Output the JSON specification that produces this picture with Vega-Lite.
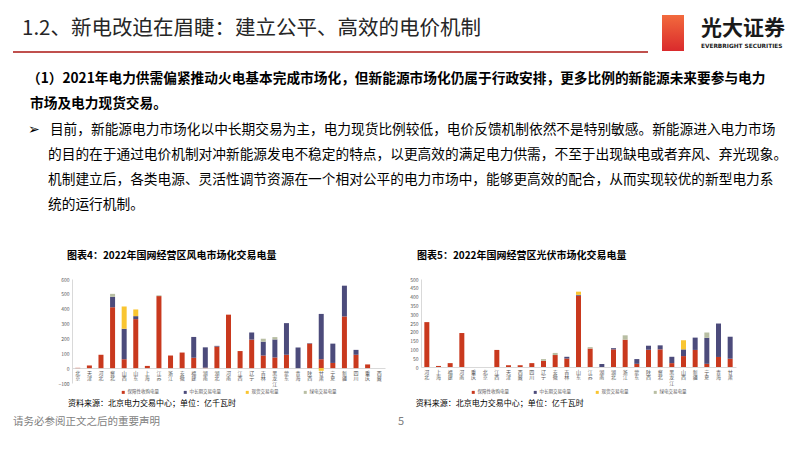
{
  "$schema": "https://vega.github.io/schema/vega-lite/v6.json",
  "background": "white",
  "padding": {"left": 13, "top": 15, "right": 0, "bottom": 0},
  "spacing": 0,
  "config": {
    "font": "Noto Sans CJK SC",
    "view": {"stroke": null},
    "axis": {"grid": false, "ticks": false, "domainColor": "#D9D9D9", "labelColor": "#595959", "labelFont": "Noto Sans CJK SC"},
    "legend": {"labelFont": "Noto Sans CJK SC"}
  },
  "datasets": {
    "none": [],
    "wind": [
      {"region": "北京", "series": "保障性收购电量", "s": 1, "value": 2},
      {"region": "天津", "series": "保障性收购电量", "s": 1, "value": 18},
      {"region": "河北", "series": "保障性收购电量", "s": 1, "value": 90},
      {"region": "冀北", "series": "保障性收购电量", "s": 1, "value": 410},
      {"region": "冀北", "series": "中长期交易电量", "s": 2, "value": 70},
      {"region": "冀北", "series": "绿电交易电量", "s": 4, "value": 20},
      {"region": "山西", "series": "保障性收购电量", "s": 1, "value": 60},
      {"region": "山西", "series": "中长期交易电量", "s": 2, "value": 205},
      {"region": "山西", "series": "现货交易电量", "s": 3, "value": 150},
      {"region": "山东", "series": "保障性收购电量", "s": 1, "value": 330},
      {"region": "山东", "series": "中长期交易电量", "s": 2, "value": 20},
      {"region": "山东", "series": "现货交易电量", "s": 3, "value": 45},
      {"region": "上海", "series": "保障性收购电量", "s": 1, "value": 15},
      {"region": "江苏", "series": "保障性收购电量", "s": 1, "value": 485},
      {"region": "江苏", "series": "绿电交易电量", "s": 4, "value": 5},
      {"region": "浙江", "series": "保障性收购电量", "s": 1, "value": 85},
      {"region": "安徽", "series": "保障性收购电量", "s": 1, "value": 105},
      {"region": "福建", "series": "保障性收购电量", "s": 1, "value": 70},
      {"region": "福建", "series": "中长期交易电量", "s": 2, "value": 140},
      {"region": "湖南", "series": "保障性收购电量", "s": 1, "value": 3},
      {"region": "湖南", "series": "中长期交易电量", "s": 2, "value": 137},
      {"region": "湖北", "series": "保障性收购电量", "s": 1, "value": 145},
      {"region": "湖北", "series": "中长期交易电量", "s": 2, "value": 5},
      {"region": "河南", "series": "保障性收购电量", "s": 1, "value": 360},
      {"region": "江西", "series": "保障性收购电量", "s": 1, "value": 115},
      {"region": "辽宁", "series": "保障性收购电量", "s": 1, "value": 192},
      {"region": "辽宁", "series": "中长期交易电量", "s": 2, "value": 48},
      {"region": "吉林", "series": "保障性收购电量", "s": 1, "value": 85},
      {"region": "吉林", "series": "中长期交易电量", "s": 2, "value": 93},
      {"region": "吉林", "series": "绿电交易电量", "s": 4, "value": 20},
      {"region": "黑龙江", "series": "保障性收购电量", "s": 1, "value": 72},
      {"region": "黑龙江", "series": "中长期交易电量", "s": 2, "value": 121},
      {"region": "黑龙江", "series": "绿电交易电量", "s": 4, "value": 16},
      {"region": "蒙东", "series": "保障性收购电量", "s": 1, "value": 90},
      {"region": "蒙东", "series": "中长期交易电量", "s": 2, "value": 213},
      {"region": "青海", "series": "中长期交易电量", "s": 2, "value": 139},
      {"region": "陕西", "series": "保障性收购电量", "s": 1, "value": 165},
      {"region": "陕西", "series": "中长期交易电量", "s": 2, "value": 3},
      {"region": "甘肃", "series": "保障性收购电量", "s": 1, "value": 60},
      {"region": "甘肃", "series": "中长期交易电量", "s": 2, "value": 305},
      {"region": "甘肃", "series": "现货交易电量", "s": 3, "value": -18},
      {"region": "宁夏", "series": "保障性收购电量", "s": 1, "value": 35},
      {"region": "宁夏", "series": "中长期交易电量", "s": 2, "value": 130},
      {"region": "新疆", "series": "保障性收购电量", "s": 1, "value": 348},
      {"region": "新疆", "series": "中长期交易电量", "s": 2, "value": 207},
      {"region": "四川", "series": "保障性收购电量", "s": 1, "value": 90},
      {"region": "四川", "series": "中长期交易电量", "s": 2, "value": 33},
      {"region": "重庆", "series": "保障性收购电量", "s": 1, "value": 25},
      {"region": "西藏", "series": "保障性收购电量", "s": 1, "value": 0}
    ],
    "solar": [
      {"region": "河北", "series": "保障性收购电量", "s": 1, "value": 255},
      {"region": "上海", "series": "保障性收购电量", "s": 1, "value": 6},
      {"region": "福建", "series": "保障性收购电量", "s": 1, "value": 22},
      {"region": "河南", "series": "保障性收购电量", "s": 1, "value": 193},
      {"region": "重庆", "series": "保障性收购电量", "s": 1, "value": 0},
      {"region": "北京", "series": "保障性收购电量", "s": 1, "value": 0},
      {"region": "江西", "series": "保障性收购电量", "s": 1, "value": 97},
      {"region": "天津", "series": "保障性收购电量", "s": 1, "value": 10},
      {"region": "西藏", "series": "保障性收购电量", "s": 1, "value": 10},
      {"region": "四川", "series": "保障性收购电量", "s": 1, "value": 22},
      {"region": "辽宁", "series": "保障性收购电量", "s": 1, "value": 35},
      {"region": "辽宁", "series": "绿电交易电量", "s": 4, "value": 10},
      {"region": "安徽", "series": "保障性收购电量", "s": 1, "value": 68},
      {"region": "安徽", "series": "绿电交易电量", "s": 4, "value": 12},
      {"region": "吉林", "series": "保障性收购电量", "s": 1, "value": 48},
      {"region": "吉林", "series": "中长期交易电量", "s": 2, "value": 10},
      {"region": "山东", "series": "保障性收购电量", "s": 1, "value": 405},
      {"region": "山东", "series": "中长期交易电量", "s": 2, "value": 5},
      {"region": "山东", "series": "现货交易电量", "s": 3, "value": 18},
      {"region": "江苏", "series": "保障性收购电量", "s": 1, "value": 105},
      {"region": "江苏", "series": "绿电交易电量", "s": 4, "value": 8},
      {"region": "湖南", "series": "中长期交易电量", "s": 2, "value": 17},
      {"region": "湖北", "series": "保障性收购电量", "s": 1, "value": 100},
      {"region": "湖北", "series": "中长期交易电量", "s": 2, "value": 7},
      {"region": "浙江", "series": "保障性收购电量", "s": 1, "value": 155},
      {"region": "浙江", "series": "绿电交易电量", "s": 4, "value": 25},
      {"region": "蒙东", "series": "保障性收购电量", "s": 1, "value": 18},
      {"region": "蒙东", "series": "中长期交易电量", "s": 2, "value": 27},
      {"region": "陕西", "series": "保障性收购电量", "s": 1, "value": 98},
      {"region": "陕西", "series": "中长期交易电量", "s": 2, "value": 23},
      {"region": "冀北", "series": "保障性收购电量", "s": 1, "value": 100},
      {"region": "冀北", "series": "中长期交易电量", "s": 2, "value": 23},
      {"region": "黑龙江", "series": "保障性收购电量", "s": 1, "value": 22},
      {"region": "黑龙江", "series": "中长期交易电量", "s": 2, "value": 36},
      {"region": "山西", "series": "保障性收购电量", "s": 1, "value": 62},
      {"region": "山西", "series": "中长期交易电量", "s": 2, "value": 38},
      {"region": "山西", "series": "现货交易电量", "s": 3, "value": 52},
      {"region": "新疆", "series": "保障性收购电量", "s": 1, "value": 97},
      {"region": "新疆", "series": "中长期交易电量", "s": 2, "value": 70},
      {"region": "宁夏", "series": "保障性收购电量", "s": 1, "value": 18},
      {"region": "宁夏", "series": "中长期交易电量", "s": 2, "value": 148},
      {"region": "宁夏", "series": "绿电交易电量", "s": 4, "value": 30},
      {"region": "青海", "series": "保障性收购电量", "s": 1, "value": 57},
      {"region": "青海", "series": "中长期交易电量", "s": 2, "value": 190},
      {"region": "甘肃", "series": "保障性收购电量", "s": 1, "value": 47},
      {"region": "甘肃", "series": "中长期交易电量", "s": 2, "value": 125}
    ]
  },
  "resolve": {"scale": {"color": "independent"}, "legend": {"color": "independent"}},
  "vconcat": [
    {
      "hconcat": [
        {
          "width": 635, "height": 1,
          "data": {"name": "none"}, "mark": "point",
          "title": {"text": "1.2、新电改迫在眉睫：建立公平、高效的电价机制", "orient": "bottom", "anchor": "start", "frame": "group", "dx": 9, "offset": 3, "fontSize": 20.5, "fontWeight": "normal", "color": "#262626"}
        },
        {
          "width": 22, "height": 36,
          "view": {"fill": {"gradient": "linear", "x1": 0, "y1": 0, "x2": 0, "y2": 1, "stops": [{"offset": 0, "color": "#F26A3D"}, {"offset": 1, "color": "#DA2A2C"}]}, "stroke": null},
          "data": {"name": "none"}, "mark": "point"
        },
        {
          "width": 90, "height": 1,
          "data": {"name": "none"}, "mark": "point",
          "title": {"text": "光大证券", "subtitle": "EVERBRIGHT SECURITIES", "orient": "bottom", "anchor": "start", "frame": "group", "dx": 3, "offset": 2, "fontSize": 21, "fontWeight": "bold", "color": "#1A1A1A", "subtitleFont": "DejaVu Sans", "subtitleFontSize": 5.8, "subtitleFontWeight": "bold", "subtitleColor": "#1A1A1A", "subtitlePadding": 4}
        }
      ],
      "spacing": 14
    },
    {
      "width": 635, "height": 2,
      "view": {"fill": "#C0504D", "stroke": null},
      "data": {"name": "none"}, "mark": "point"
    },
    {
      "width": 760, "height": 1, "data": {"name": "none"}, "mark": "point",
      "title": {"text": "（1）2021年电力供需偏紧推动火电基本完成市场化，但新能源市场化仍属于行政安排，更多比例的新能源未来要参与电力", "orient": "bottom", "anchor": "start", "frame": "group", "dx": 14, "offset": 18, "fontSize": 13.7, "fontWeight": "bold", "color": "#000000"}
    },
    {
      "width": 760, "height": 1, "data": {"name": "none"}, "mark": "point",
      "title": {"text": "市场及电力现货交易。", "orient": "bottom", "anchor": "start", "frame": "group", "dx": 17, "offset": 10, "fontSize": 13.7, "fontWeight": "bold", "color": "#000000"}
    },
    {
      "width": 760, "height": 1, "data": {"name": "none"}, "mark": "point",
      "title": {"text": "➢\u2002 目前，新能源电力市场化以中长期交易为主，电力现货比例较低，电价反馈机制依然不是特别敏感。新能源进入电力市场", "orient": "bottom", "anchor": "start", "frame": "group", "dx": 15, "offset": 11, "fontSize": 13.7, "fontWeight": "normal", "color": "#000000"}
    },
    {
      "width": 760, "height": 1, "data": {"name": "none"}, "mark": "point",
      "title": {"text": "的目的在于通过电价机制对冲新能源发电不稳定的特点，以更高效的满足电力供需，不至于出现缺电或者弃风、弃光现象。", "orient": "bottom", "anchor": "start", "frame": "group", "dx": 35, "offset": 10, "fontSize": 13.7, "fontWeight": "normal", "color": "#000000"}
    },
    {
      "width": 760, "height": 1, "data": {"name": "none"}, "mark": "point",
      "title": {"text": "机制建立后，各类电源、灵活性调节资源在一个相对公平的电力市场中，能够更高效的配合，从而实现较优的新型电力系", "orient": "bottom", "anchor": "start", "frame": "group", "dx": 35, "offset": 10, "fontSize": 13.7, "fontWeight": "normal", "color": "#000000"}
    },
    {
      "width": 760, "height": 1, "data": {"name": "none"}, "mark": "point",
      "title": {"text": "统的运行机制。", "orient": "bottom", "anchor": "start", "frame": "group", "dx": 35, "offset": 10, "fontSize": 13.7, "fontWeight": "normal", "color": "#000000"}
    },
    {"width": 1, "height": 39, "data": {"name": "none"}, "mark": "point"},
    {
      "hconcat": [
        {"width": 20, "height": 137, "data": {"name": "none"}, "mark": "point"},
        {
          "title": {"text": "资料来源：北京电力交易中心；单位：亿千瓦时", "orient": "bottom", "anchor": "start", "frame": "bounds", "dx": 10, "offset": 6, "fontSize": 8, "fontWeight": "normal", "color": "#000000"},
          "vconcat": [
            {
              "width": 313, "height": 104,
              "title": {"text": "图表4：2022年国网经营区风电市场化交易电量", "anchor": "start", "frame": "group", "dx": -5, "offset": 16, "fontSize": 10, "fontWeight": "bold", "color": "#000000"},
              "data": {"name": "wind"},
              "mark": {"type": "bar", "width": 5},
              "encoding": {
                "x": {"field": "region", "type": "nominal", "sort": null, "scale": {"paddingInner": 0, "paddingOuter": 0},
                  "axis": {"title": null, "labelAngle": 0, "labelExpr": "split(datum.label, '')", "labelFontSize": 5, "labelLineHeight": 5.5, "labelBaseline": "top", "labelPadding": 2, "offset": -15}},
                "y": {"field": "value", "type": "quantitative", "stack": "zero", "scale": {"domain": [-100, 600], "nice": false},
                  "axis": {"title": null, "values": [-100, 0, 100, 200, 300, 400, 500, 600], "labelFontSize": 5, "labelPadding": 3}},
                "color": {"field": "series", "type": "nominal",
                  "scale": {"domain": ["保障性收购电量", "中长期交易电量", "现货交易电量", "绿电交易电量"], "range": ["#C9391E", "#4C4B7B", "#F9C531", "#B8BEA3"]},
                  "legend": {"title": null, "orient": "none", "legendX": 49, "legendY": 111, "direction": "horizontal", "columns": 4, "columnPadding": 24, "symbolType": "square", "symbolSize": 9, "symbolStrokeWidth": 0, "labelFontSize": 4.5, "labelOffset": 2, "labelColor": "#595959", "padding": 0}},
                "order": {"field": "s", "type": "quantitative"}
              }
            }
          ]
        },
        {
          "title": {"text": "资料来源：北京电力交易中心；单位：亿千瓦时", "orient": "bottom", "anchor": "start", "frame": "bounds", "dx": 6, "offset": 6, "fontSize": 8, "fontWeight": "normal", "color": "#000000"},
          "vconcat": [
            {
              "width": 315, "height": 88,
              "title": {"text": "图表5：2022年国网经营区光伏市场化交易电量", "anchor": "start", "frame": "group", "dx": -4, "offset": 16, "fontSize": 10, "fontWeight": "bold", "color": "#000000"},
              "data": {"name": "solar"},
              "mark": {"type": "bar", "width": 5},
              "encoding": {
                "x": {"field": "region", "type": "nominal", "sort": null, "scale": {"paddingInner": 0, "paddingOuter": 0},
                  "axis": {"title": null, "labelAngle": 0, "labelExpr": "split(datum.label, '')", "labelFontSize": 5, "labelLineHeight": 5.5, "labelBaseline": "top", "labelPadding": 2}},
                "y": {"field": "value", "type": "quantitative", "stack": "zero", "scale": {"domain": [0, 500], "nice": false},
                  "axis": {"title": null, "values": [0, 50, 100, 150, 200, 250, 300, 350, 400, 450, 500], "labelFontSize": 5, "labelPadding": 3}},
                "color": {"field": "series", "type": "nominal",
                  "scale": {"domain": ["保障性收购电量", "中长期交易电量", "现货交易电量", "绿电交易电量"], "range": ["#C9391E", "#4C4B7B", "#F9C531", "#B8BEA3"]},
                  "legend": {"title": null, "orient": "none", "legendX": 50, "legendY": 111, "direction": "horizontal", "columns": 4, "columnPadding": 24, "symbolType": "square", "symbolSize": 9, "symbolStrokeWidth": 0, "labelFontSize": 4.5, "labelOffset": 2, "labelColor": "#595959", "padding": 0}},
                "order": {"field": "s", "type": "quantitative"}
              }
            }
          ]
        }
      ],
      "spacing": 24,
      "resolve": {"scale": {"color": "independent"}, "legend": {"color": "independent"}}
    },
    {
      "hconcat": [
        {
          "width": 385, "height": 1,
          "data": {"name": "none"}, "mark": "point",
          "title": {"text": "请务必参阅正文之后的重要声明", "anchor": "start", "frame": "group", "offset": 0, "fontSize": 10.5, "fontWeight": "normal", "color": "#7F7F7F"}
        },
        {
          "width": 10, "height": 1,
          "data": {"name": "none"}, "mark": "point",
          "title": {"text": "5", "anchor": "start", "frame": "group", "offset": 0, "fontSize": 11, "fontWeight": "normal", "color": "#7F7F7F"}
        }
      ],
      "spacing": 0
    }
  ]
}
